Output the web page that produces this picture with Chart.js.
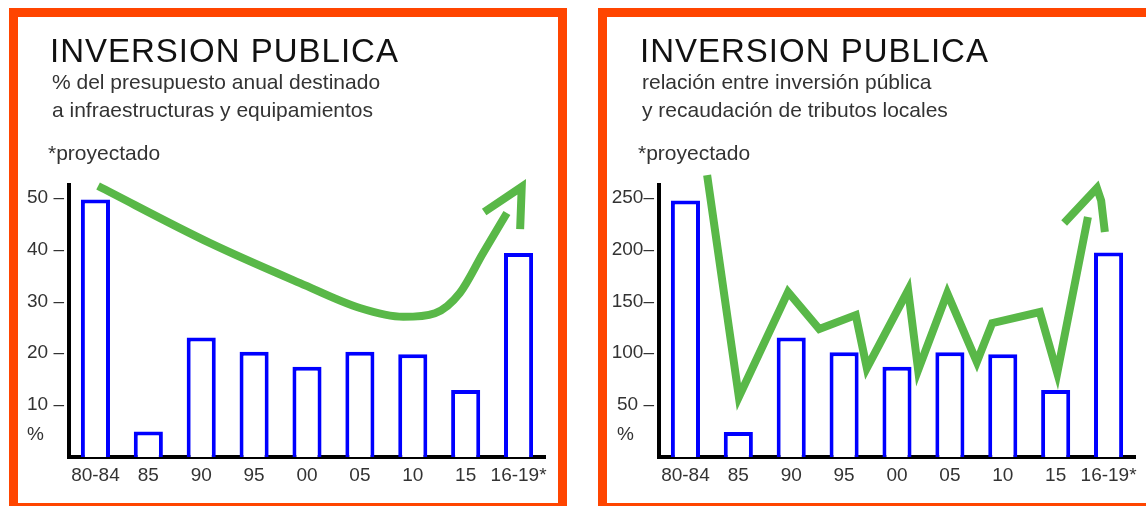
<!DOCTYPE html>
<html>
<head>
<meta charset="utf-8">
<script src="https://cdn.jsdelivr.net/npm/chart.js@4.4.1/dist/chart.umd.min.js"></script>
<style>
  html, body { margin: 0; padding: 0; background: #fff; }
  body { width: 1146px; height: 506px; overflow: hidden; position: relative;
         font-family: "Liberation Sans", Arial, Helvetica, sans-serif; }
  .panel { position: absolute; top: 8px; width: 558px; height: 504px; box-sizing: border-box;
           border: 9px solid #ff4500; background: #fff; }
  .cw { position: absolute; top: 0; width: 573px; height: 506px; }
  .txt { position: absolute; white-space: nowrap; }
  .title { font-size: 33px; line-height: 33px; letter-spacing: 1px; color: #111; }
  .sub { font-size: 21px; line-height: 28px; color: #333; }
  .unit { font-size: 19px; line-height: 19px; color: #333; }
</style>
</head>
<body>
  <div class="panel" style="left:9px"></div>
  <div class="panel" style="left:598px"></div>

  <div class="cw" style="left:0"><canvas id="budget" width="573" height="506"></canvas></div>
  <div class="cw" style="left:590px"><canvas id="ratio" width="573" height="506"></canvas></div>

  <div class="txt title" style="left:50px;top:34px">INVERSION PUBLICA</div>
  <div class="txt sub" style="left:52px;top:68px">% del presupuesto anual destinado<br>a infraestructuras y equipamientos</div>
  <div class="txt sub" style="left:48px;top:139px">*proyectado</div>
  <div class="txt unit" style="left:27px;top:424px">%</div>

  <div class="txt title" style="left:640px;top:34px">INVERSION PUBLICA</div>
  <div class="txt sub" style="left:642px;top:68px">relación entre inversión pública<br>y recaudación de tributos locales</div>
  <div class="txt sub" style="left:638px;top:139px">*proyectado</div>
  <div class="txt unit" style="left:617px;top:424px">%</div>

<script>
// Periods on the horizontal axis
const categories = ['80-84', '85', '90', '95', '00', '05', '10', '15', '16-19*'];

// % of the annual budget spent on infrastructure and equipment
const budgetShare = [49.6, 4.9, 23, 20.3, 17.4, 20.3, 19.8, 12.9, 39.3];
const budgetTicks = [10, 20, 30, 40, 50];
const budgetMax = 52.4;

// Public investment relative to local tax revenue
const taxRatio = [247, 24, 115, 101, 87, 101, 99, 64.5, 197];
const ratioTicks = [50, 100, 150, 200, 250];
const ratioMax = 262;

// Hand-drawn trend strokes: [category position, value]
const budgetTrend = [[0.05, 52.2], [2.17, 41.2], [3.87, 33.5], [5.0, 28.7], [5.82, 27.0],
                     [6.42, 27.7], [6.89, 31.6], [7.33, 39.3], [7.78, 47.0]];
const budgetArrow = [[7.35, 47.2], [8.06, 52.05], [8.03, 43.9]];

const ratioTrend = [[0.41, 271.5], [1.01, 57.8], [1.94, 158.9], [2.53, 123.3], [3.22, 136.7],
                    [3.43, 85.7], [4.21, 160.8], [4.40, 83.8], [4.95, 157.9], [5.51, 91.5],
                    [5.80, 129.0], [6.70, 139.6], [7.03, 80.9], [7.61, 231.1]];
const ratioArrow = [[7.16, 225.3], [7.78, 259.0], [7.86, 247.0], [7.93, 216.7]];

const FONT = '"Liberation Sans", Arial, Helvetica, sans-serif';
const GREEN = '#59b848';
const BLUE = '#0000ff';

function toPoints(list) { return list.map(([x, y]) => ({ x, y })); }

function buildChart(id, values, maxVal, ticks, trend, arrow, smooth, fmt) {
  const strokeBase = {
    type: 'line', xAxisID: 'xt', yAxisID: 'y',
    borderColor: GREEN, borderWidth: 8, pointRadius: 0, fill: false, clip: false,
    borderCapStyle: 'butt', order: 1
  };
  return new Chart(document.getElementById(id), {
    type: 'bar',
    data: {
      labels: categories,
      datasets: [
        {
          type: 'bar', data: values, xAxisID: 'x', yAxisID: 'y', grouped: false,
          backgroundColor: '#ffffff', borderColor: BLUE, borderWidth: 4,
          borderSkipped: 'start', barPercentage: 0.55, categoryPercentage: 1, order: 2
        },
        Object.assign({}, strokeBase, {
          data: toPoints(trend),
          cubicInterpolationMode: smooth ? 'monotone' : 'default',
          tension: 0, borderJoinStyle: smooth ? 'round' : 'miter'
        }),
        Object.assign({}, strokeBase, {
          data: toPoints(arrow), tension: 0, borderJoinStyle: 'miter'
        })
      ]
    },
    options: {
      responsive: false, animation: false, devicePixelRatio: 1,
      layout: { padding: { left: 19, right: 28, top: 185, bottom: 19 } },
      plugins: { legend: { display: false }, tooltip: { enabled: false } },
      scales: {
        x: {
          type: 'category', offset: true,
          grid: { display: false, drawTicks: false },
          border: { display: true, color: '#000', width: 4 },
          ticks: { color: '#333', padding: 7, maxRotation: 0, autoSkip: false,
                   font: { family: FONT, size: 19 } },
          afterFit: s => { s.height = 30; }
        },
        xt: { type: 'linear', min: -0.5, max: 8.5, offset: false, display: false },
        y: {
          type: 'linear', min: 0, max: maxVal,
          grid: { display: false, drawTicks: false },
          border: { display: true, color: '#000', width: 4 },
          afterBuildTicks: s => { s.ticks = ticks.map(v => ({ value: v })); },
          ticks: { color: '#333', padding: 5, font: { family: FONT, size: 19 },
                   callback: fmt },
          afterFit: s => { s.width = 50; }
        }
      }
    }
  });
}

buildChart('budget', budgetShare, budgetMax, budgetTicks, budgetTrend, budgetArrow, true,
           v => v + ' \u2013');
buildChart('ratio', taxRatio, ratioMax, ratioTicks, ratioTrend, ratioArrow, false,
           v => (v >= 100 ? v + '\u2013' : v + ' \u2013'));
</script>
</body>
</html>
